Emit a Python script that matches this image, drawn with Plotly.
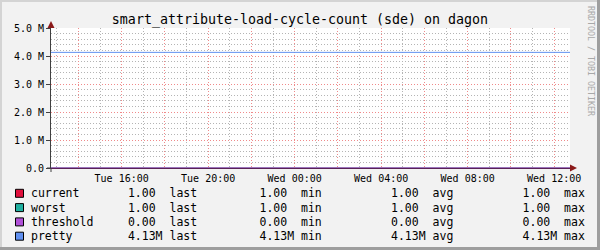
import plotly.graph_objects as go

# ---------------- data ----------------
times = ["2024-01-02 12:44", "2024-01-02 16:00", "2024-01-02 20:00", "2024-01-03 00:00",
         "2024-01-03 04:00", "2024-01-03 08:00", "2024-01-03 12:00", "2024-01-03 12:44"]
current = [1, 1, 1, 1, 1, 1, 1, 1]
worst = [1, 1, 1, 1, 1, 1, 1, 1]
threshold = [0, 0, 0, 0, 0, 0, 0, 0]
pretty = [4.13e6, 4.13e6, 4.13e6, 4.13e6, 4.13e6, 4.13e6, 4.13e6, 4.13e6]

series_names = ["current", "worst", "threshold", "pretty"]
series_colors = ["#e0103c", "#20b0a0", "#b050d8", "#6090f0"]
legend_last = ["1.00 ", "1.00 ", "0.00 ", "4.13M"]
legend_min = ["1.00 ", "1.00 ", "0.00 ", "4.13M"]
legend_avg = ["1.00 ", "1.00 ", "0.00 ", "4.13M"]
legend_max = ["1.00 ", "1.00 ", "0.00 ", "4.13M"]

x_major = ["2024-01-02 14:00", "2024-01-02 16:00", "2024-01-02 18:00", "2024-01-02 20:00",
           "2024-01-02 22:00", "2024-01-03 00:00", "2024-01-03 02:00", "2024-01-03 04:00",
           "2024-01-03 06:00", "2024-01-03 08:00", "2024-01-03 10:00", "2024-01-03 12:00"]
x_labels = ["", "Tue 16:00", "", "Tue 20:00", "", "Wed 00:00", "", "Wed 04:00",
            "", "Wed 08:00", "", "Wed 12:00"]
y_ticks = [0, 1e6, 2e6, 3e6, 4e6, 5e6]
y_labels = ["0.0", "1.0 M", "2.0 M", "3.0 M", "4.0 M", "5.0 M"]
x_range = ["2024-01-02 12:44", "2024-01-03 12:44"]

title = "smart_attribute-load-cycle-count (sde) on dagon"
watermark = "RRDTOOL / TOBI OETIKER"

# ---------------- geometry helpers ----------------
W, H = 600, 250
L, R, T, B = 51, 570, 28, 168
def px(x):
    return (x - L) / (R - L)
def py(y):
    return (B - y) / (B - T)

FONT = "DejaVu Sans Mono"
DASH = "1px,2px"

fig = go.Figure()
data = {"current": current, "worst": worst, "threshold": threshold, "pretty": pretty}
for name in ["pretty", "current", "worst", "threshold"]:
    i = series_names.index(name)
    fig.add_trace(go.Scatter(x=times, y=data[name], mode="lines",
                             line=dict(color=series_colors[i], width=1),
                             showlegend=False, hoverinfo="skip"))

fig.update_layout(
    width=W, height=H,
    margin=dict(l=L, r=W - R, t=T, b=H - B, pad=0),
    paper_bgcolor="#f2f2f2", plot_bgcolor="#ffffff",
    font=dict(family=FONT, size=10, color="#000000"),
    title=dict(text=title, x=0.5, xref="container", xanchor="center",
               y=1 - 19 / H, yanchor="middle",
               font=dict(family=FONT, size=13.3, color="#000000")),
    showlegend=False,
)

fig.update_xaxes(
    type="date", range=x_range,
    tickmode="array", tickvals=x_major, ticktext=x_labels,
    showgrid=True, gridcolor="#f08a8a", griddash=DASH, gridwidth=1,
    minor=dict(tickmode="linear", tick0="2024-01-02 13:00", dtick=3600000,
               showgrid=True, gridcolor="#b4b4b4", griddash=DASH, gridwidth=1, ticks=""),
    ticks="", showline=True, linecolor="#5a2058", linewidth=1,
    zeroline=False, tickfont=dict(family=FONT, size=10, color="#000000"),
    ticklabelstandoff=1,
)
fig.update_yaxes(
    range=[0, 5e6], tickmode="array", tickvals=y_ticks, ticktext=y_labels,
    showgrid=True, gridcolor="#f08a8a", griddash=DASH, gridwidth=1,
    minor=dict(tickmode="linear", tick0=0, dtick=2e5,
               showgrid=True, gridcolor="#b4b4b4", griddash=DASH, gridwidth=1, ticks=""),
    ticks="outside", ticklen=4, tickcolor="#404040",
    showline=True, linecolor="#404040", linewidth=1, zeroline=False,
    tickfont=dict(family=FONT, size=10, color="#000000"),
)

shapes = []
# arrows
shapes.append(dict(type="path", xref="paper", yref="paper",
                   path=f"M {px(47.5)} {py(28)} L {px(54.5)} {py(28)} L {px(51)} {py(21)} Z",
                   fillcolor="#8b1a1a", line=dict(width=0)))
shapes.append(dict(type="path", xref="paper", yref="paper",
                   path=f"M {px(570)} {py(164.5)} L {px(570)} {py(171.5)} L {px(577)} {py(168)} Z",
                   fillcolor="#8b1a1a", line=dict(width=0)))
# small axis overhangs
shapes.append(dict(type="line", xref="paper", yref="paper", x0=px(47), x1=px(51), y0=0, y1=0,
                   line=dict(color="#404040", width=1)))
shapes.append(dict(type="line", xref="paper", yref="paper", x0=0, x1=0, y0=py(172), y1=0,
                   line=dict(color="#404040", width=1)))
# frame (3D border)
shapes.append(dict(type="rect", xref="paper", yref="paper", x0=px(0), x1=px(2), y0=py(0), y1=py(250),
                   fillcolor="#d4d4d4", line=dict(width=0), layer="below"))
shapes.append(dict(type="rect", xref="paper", yref="paper", x0=px(0), x1=px(600), y0=py(0), y1=py(2),
                   fillcolor="#d4d4d4", line=dict(width=0), layer="below"))
shapes.append(dict(type="rect", xref="paper", yref="paper", x0=px(597), x1=px(600), y0=py(0), y1=py(250),
                   fillcolor="#9e9e9e", line=dict(width=0), layer="below"))
shapes.append(dict(type="rect", xref="paper", yref="paper", x0=px(0), x1=px(600), y0=py(247), y1=py(250),
                   fillcolor="#9e9e9e", line=dict(width=0), layer="below"))

annotations = []
row_y = [193.3, 207.6, 221.9, 236.2]
NB = "\u00a0"
for i, name in enumerate(series_names):
    yc = row_y[i]
    shapes.append(dict(type="rect", xref="paper", yref="paper",
                       x0=px(15.5), x1=px(23.5), y0=py(yc - 4), y1=py(yc + 4),
                       fillcolor=series_colors[i], line=dict(color="#000000", width=1)))
    row = (name.ljust(14) + legend_last[i] + " last" + " " * 9 + legend_min[i] + " min"
           + " " * 10 + legend_avg[i] + " avg" + " " * 10 + legend_max[i] + " max")
    annotations.append(dict(xref="paper", yref="paper", x=px(30), y=py(yc),
                            xanchor="left", yanchor="middle", showarrow=False,
                            text=row.replace(" ", NB), borderpad=0,
                            font=dict(family=FONT, size=11.5, color="#000000")))

annotations.append(dict(xref="paper", yref="paper", x=px(591), y=py(5),
                        xanchor="center", yanchor="top", showarrow=False, textangle=90,
                        text=watermark.replace(" ", NB), borderpad=0,
                        font=dict(family=FONT, size=8.3, color="#a8a8a8")))

fig.update_layout(shapes=shapes, annotations=annotations)
fig.write_html("out.html")
